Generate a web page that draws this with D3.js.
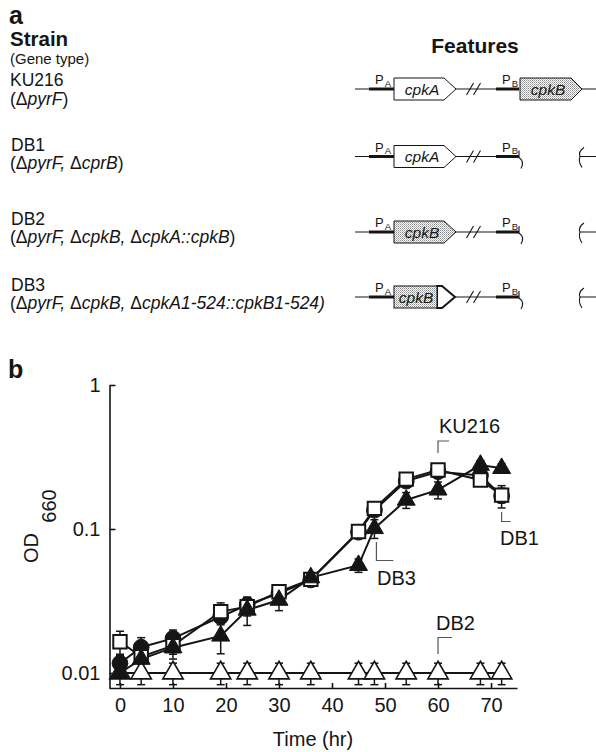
<!DOCTYPE html>
<html><head><meta charset="utf-8">
<script src="https://cdn.jsdelivr.net/npm/d3@7"></script>
<style>
body{margin:0;background:#fff}
svg{display:block}
text{font-family:"Liberation Sans",Arial,Helvetica,sans-serif;fill:#151515}
</style>
</head><body>
<svg id="chart" width="596" height="752"></svg>
<script>
// ================= DATA =================
// Panel a
const strains = ["KU216", "DB1", "DB2", "DB3"];
const genotypes = [
  [["(",0],["Δ",0],["pyrF",1],[")",0]],
  [["(",0],["Δ",0],["pyrF, ",1],["Δ",0],["cprB",1],[")",0]],
  [["(",0],["Δ",0],["pyrF, ",1],["Δ",0],["cpkB, ",1],["Δ",0],["cpkA::cpkB",1],[")",0]],
  [["(",0],["Δ",0],["pyrF, ",1],["Δ",0],["cpkB, ",1],["Δ",0],["cpkA1-524::cpkB1-524)",1]]
];
const locusAGene = ["cpkA", "cpkA", "cpkB", "cpkB"];
const locusAType = ["plain", "plain", "stippled", "chimera"];
const locusBGene = ["cpkB", null, null, null];

// Panel b
const time = [0, 4, 10, 19, 24, 30, 36, 45, 48, 54, 60, 68, 72];
const ku216 = [0.0165, 0.0130, 0.0155, 0.0267, 0.0289, 0.0367, 0.0447, 0.096, 0.139, 0.222, 0.257, 0.219, 0.172];
const ku216Err = [0.003, 0.0022, 0.002, 0.004, 0.004, 0.004, 0.003, 0.008, 0.010, 0.015, 0.015, 0.012, 0.020];
const db1 = [0.0117, 0.0151, 0.0174, 0.0246, 0.0297, 0.0358, 0.0443, 0.095, 0.135, 0.215, 0.250, 0.235, 0.170];
const db1Err = [0.0015, 0.0025, 0.0025, 0.003, 0.004, 0.003, 0.003, 0.008, 0.010, 0.015, 0.015, 0.015, 0.030];
const db2 = [0.0100, 0.0100, 0.0100, 0.0100, 0.0100, 0.0100, 0.0100, 0.0100, 0.0100, 0.0100, 0.0100, 0.0100, 0.0100];
const db2Err = [0.0017, 0.0017, 0.0017, 0.0017, 0.0017, 0.0017, 0.0017, 0.0017, 0.0017, 0.0017, 0.0017, 0.0017, 0.0017];
const db3 = [0.0100, 0.0125, 0.0150, 0.0181, 0.0274, 0.0321, 0.0460, 0.056, 0.101, 0.159, 0.187, 0.278, 0.264];
const db3Err = [0.0005, 0.001, 0.0025, 0.0045, 0.006, 0.005, 0.003, 0.006, 0.015, 0.020, 0.025, 0.020, 0.020];
const xTicks = [0, 10, 20, 30, 40, 50, 60, 70];
const yTicks = [0.01, 0.1, 1];
const yTickLabels = ["0.01", "0.1", "1"];

// ================= DRAW =================
const svg = d3.select("#chart");
const INK = "#151515";

const defs = svg.append("defs");
const pat = defs.append("pattern").attr("id", "stip").attr("width", 2).attr("height", 2)
  .attr("patternUnits", "userSpaceOnUse");
pat.append("rect").attr("width", 2).attr("height", 2).attr("fill", "#fff");
pat.append("rect").attr("x", 0).attr("y", 0).attr("width", 1).attr("height", 1).attr("fill", "#8a8a8a");
pat.append("rect").attr("x", 1).attr("y", 1).attr("width", 1).attr("height", 1).attr("fill", "#b5b5b5");

// ---------- Panel a ----------
svg.append("text").attr("x", 9).attr("y", 24).attr("font-size", 25).attr("font-weight", "bold").text("a");
svg.append("text").attr("x", 10).attr("y", 46).attr("font-size", 20.5).attr("font-weight", "bold").text("Strain");
svg.append("text").attr("x", 10).attr("y", 64).attr("font-size", 15).text("(Gene type)");
svg.append("text").attr("x", 475).attr("y", 53).attr("font-size", 21).attr("font-weight", "bold")
  .attr("text-anchor", "middle").text("Features");

const nameY = [86, 151, 225, 291];
const genoY = [105, 169, 243, 309];
const rowCy = [89, 156.5, 232, 297];

strains.forEach((s, i) => {
  svg.append("text").attr("x", i === 0 ? 10 : 11).attr("y", nameY[i]).attr("font-size", 17.5).text(s);
  const t = svg.append("text").attr("x", 10).attr("y", genoY[i]).attr("font-size", 17.5);
  genotypes[i].forEach(([txt, it]) => {
    t.append("tspan").attr("font-style", it ? "italic" : "normal").text(txt);
  });
});

function geneBox(g, x0, x1, tip, cy, fill, sw) {
  const h = 11;
  g.append("path")
    .attr("d", `M${x0},${cy - h}H${x1}L${tip},${cy}L${x1},${cy + h}H${x0}Z`)
    .attr("fill", fill).attr("stroke", INK).attr("stroke-width", sw || 1);
}
function geneLabel(g, x, cy, txt) {
  g.append("text").attr("x", x).attr("y", cy + 5.5).attr("font-size", 15.5)
    .attr("font-style", "italic").attr("text-anchor", "middle").text(txt);
}
function promLabel(g, x, cy, sub) {
  const t = g.append("text").attr("x", x).attr("y", cy - 5).attr("font-size", 13);
  t.append("tspan").text("P");
  t.append("tspan").attr("font-size", 9.5).attr("dy", 2.5).attr("dx", 1).text(sub);
}

strains.forEach((s, i) => {
  const cy = rowCy[i];
  const g = svg.append("g");
  // backbone pieces
  g.append("line").attr("x1", 355).attr("x2", 394).attr("y1", cy).attr("y2", cy).attr("stroke", INK).attr("stroke-width", 1);
  g.append("line").attr("x1", 369).attr("x2", 394).attr("y1", cy).attr("y2", cy).attr("stroke", INK).attr("stroke-width", 3);
  g.append("line").attr("x1", 455).attr("x2", 497).attr("y1", cy).attr("y2", cy).attr("stroke", INK).attr("stroke-width", 1);
  g.append("line").attr("x1", 496).attr("x2", 519).attr("y1", cy).attr("y2", cy).attr("stroke", INK).attr("stroke-width", 3);
  // break slashes
  [467, 474].forEach(sx => {
    g.append("line").attr("x1", sx - 0.5).attr("y1", cy + 6).attr("x2", sx + 6.5).attr("y2", cy - 6)
      .attr("stroke", INK).attr("stroke-width", 1.1);
  });
  promLabel(g, 375, cy, "A");
  promLabel(g, 502, cy, "B");

  // locus A
  if (locusAType[i] === "plain") {
    geneBox(g, 394, 444, 456, cy, "#fff");
  } else if (locusAType[i] === "stippled") {
    geneBox(g, 394, 444, 456, cy, "url(#stip)");
  } else {
    geneBox(g, 437, 442, 455, cy, "#fff", 2);
    g.append("rect").attr("x", 394).attr("y", cy - 11).attr("width", 43).attr("height", 22)
      .attr("fill", "url(#stip)").attr("stroke", INK).attr("stroke-width", 1);
  }
  geneLabel(g, locusAType[i] === "chimera" ? 416 : 422, cy, locusAGene[i]);

  // locus B
  if (locusBGene[i]) {
    geneBox(g, 520, 571, 582, cy, "url(#stip)");
    geneLabel(g, 548, cy, locusBGene[i]);
    g.append("line").attr("x1", 582).attr("x2", 596).attr("y1", cy).attr("y2", cy).attr("stroke", INK).attr("stroke-width", 1);
  } else {
    g.append("path").attr("d", `M519,${cy - 6}V${cy + 1}Q525,${cy + 5} 521,${cy + 12}`)
      .attr("fill", "none").attr("stroke", INK).attr("stroke-width", 1.1);
    g.append("path").attr("d", `M584,${cy - 9}Q578,${cy - 5} 580,${cy}Q578,${cy + 5} 582,${cy + 11}M580,${cy}H596`)
      .attr("fill", "none").attr("stroke", INK).attr("stroke-width", 1.1);
  }
});

// ---------- Panel b ----------
svg.append("text").attr("x", 8).attr("y", 378).attr("font-size", 25).attr("font-weight", "bold").text("b");

const xS = d3.scaleLinear().domain([-2.07, 74.9]).range([109, 517]);
const yS = d3.scaleLog().domain([0.00787, 1]).range([688, 385]);

const xAxis = svg.append("g").attr("transform", "translate(0,688)")
  .call(d3.axisBottom(xS).tickValues(xTicks).tickSizeInner(-5).tickSizeOuter(0).tickPadding(10));
const yAxis = svg.append("g").attr("transform", "translate(109.5,0)")
  .call(d3.axisLeft(yS).tickValues(yTicks).tickFormat((d, i) => yTickLabels[i])
    .tickSizeInner(-6).tickSizeOuter(0).tickPadding(9));
[xAxis, yAxis].forEach(a => {
  a.select(".domain").attr("stroke", INK).attr("stroke-width", 1.6);
  a.selectAll(".tick line").attr("stroke", INK).attr("stroke-width", 1.6);
  a.selectAll(".tick text").attr("font-size", 20).attr("fill", INK)
    .attr("font-family", '"Liberation Sans",Arial,sans-serif');
});

svg.append("text").attr("x", 313).attr("y", 746).attr("font-size", 20).attr("text-anchor", "middle").text("Time (hr)");
svg.append("text").attr("transform", "translate(38,548) rotate(-90)").attr("font-size", 20)
  .attr("text-anchor", "middle").text("OD");
svg.append("text").attr("transform", "translate(56,506) rotate(-90)").attr("font-size", 20)
  .attr("text-anchor", "middle").text("660");

const series = [
  { v: db2, e: db2Err, sym: d3.symbolTriangle, size: 180, fill: "#fff", sw: 1.6 },
  { v: db1, e: db1Err, sym: d3.symbolCircle, size: 195, fill: INK, sw: 1 },
  { v: ku216, e: ku216Err, sym: d3.symbolSquare, size: 180, fill: "#fff", sw: 2 },
  { v: db3, e: db3Err, sym: d3.symbolTriangle, size: 140, fill: INK, sw: 1 }
];

const line = d3.line().x((d, i) => xS(time[i])).y(d => yS(d));
const gLines = svg.append("g");
const gErr = svg.append("g");
const gMarks = svg.append("g");

series.forEach(s => {
  gLines.append("path").attr("d", line(s.v)).attr("fill", "none").attr("stroke", INK).attr("stroke-width", 2);
});
series.forEach(s => {
  s.v.forEach((v, i) => {
    const x = xS(time[i]);
    const y1 = yS(v + s.e[i]), y0 = yS(Math.max(v - s.e[i], 0.0079));
    gErr.append("line").attr("x1", x).attr("x2", x).attr("y1", y1).attr("y2", y0).attr("stroke", INK).attr("stroke-width", 1.5);
    [y1, y0].forEach(yy => gErr.append("line").attr("x1", x - 4).attr("x2", x + 4).attr("y1", yy).attr("y2", yy)
      .attr("stroke", INK).attr("stroke-width", 1.5));
  });
});
series.forEach(s => {
  gMarks.selectAll(null).data(s.v).enter().append("path")
    .attr("transform", (d, i) => `translate(${xS(time[i])},${yS(d)})`)
    .attr("d", d3.symbol().type(s.sym).size(s.size))
    .attr("fill", s.fill).attr("stroke", INK).attr("stroke-width", s.sw);
});

// annotations
function note(label, tx, ty, path) {
  svg.append("path").attr("d", path).attr("fill", "none").attr("stroke", "#555").attr("stroke-width", 1.2);
  svg.append("text").attr("x", tx).attr("y", ty).attr("font-size", 20).text(label);
}
const xa = xS(60), xb = xS(72), xc = xS(48);
note("KU216", 439, 433, `M${xa},453V441H${xa + 11}`);
note("DB2", 436, 630, `M${xa},654V637.5H${xa + 14}`);
note("DB3", 377, 585, `M${xc + 2},542V560.5H${xc + 19}`);
note("DB1", 500, 545, `M${xb},512V521.5H${xb + 9}`);
</script>
</body></html>
